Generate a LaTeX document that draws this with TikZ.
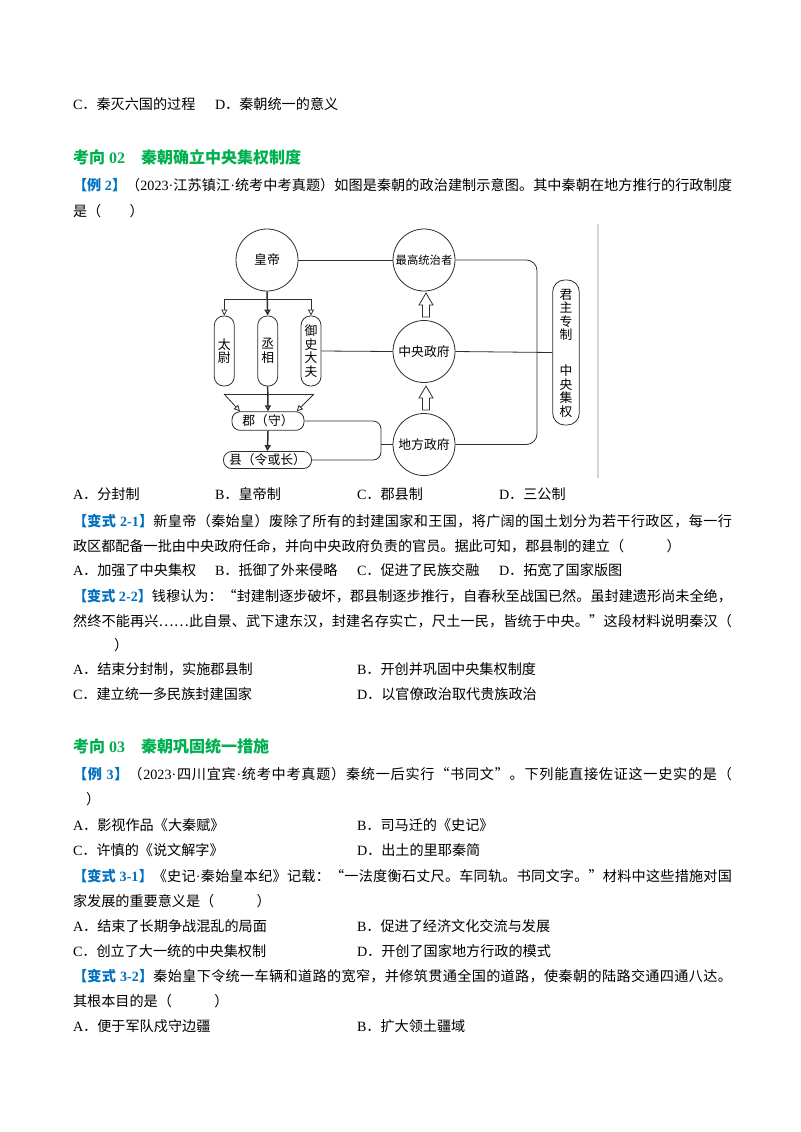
\documentclass[tikz,border=0pt]{standalone}
\usepackage{fontspec}
\setmainfont{Liberation Serif}
\newfontfamily\cjkfont{Noto Sans CJK SC}
\usetikzlibrary{arrows.meta}
\definecolor{headgreen}{HTML}{00B050}
\definecolor{tagblue}{HTML}{0070C0}
\definecolor{ink}{HTML}{2E2E2E}
\definecolor{frameline}{HTML}{D4D4D4}
% automatic switching between Latin and CJK fonts, with stretchable glue between characters
\XeTeXinterchartokenstate=1
\newXeTeXintercharclass\CJKc
\newcount\tmpc
\def\setcjkrange#1#2{\tmpc=#1\relax\loop\XeTeXcharclass\tmpc=\CJKc\relax\advance\tmpc by 1\relax\ifnum\tmpc<#2\relax\repeat}
\setcjkrange{"4E00}{"A000}
\setcjkrange{"3000}{"3040}
\setcjkrange{"FF00}{"FFF0}
\XeTeXcharclass"201C=\CJKc
\XeTeXcharclass"201D=\CJKc
\XeTeXcharclass"2026=\CJKc
\XeTeXinterchartoks 4095 \CJKc = {\cjkfont}
\XeTeXinterchartoks \CJKc 4095 = {\rmfamily}
\XeTeXinterchartoks 4095 0 = {\rmfamily}
\XeTeXinterchartoks 0 \CJKc = {\hskip0pt plus 1pt\relax\cjkfont}
\XeTeXinterchartoks \CJKc 0 = {\hskip0pt plus 1pt\relax\rmfamily}
\XeTeXinterchartoks \CJKc \CJKc = {\hskip0pt plus 1pt\relax\cjkfont}
\newcommand\exlab[1]{{\bfseries\color{tagblue}#1}}
\newcommand\fl[2][494.25pt]{\makebox[#1][s]{#2}}
\begin{document}
\begin{tikzpicture}[x=0.75pt,y=-0.75pt,
  txt/.style={anchor=base west, inner sep=0pt, outer sep=0pt, font=\fontsize{10.6pt}{12.7pt}\selectfont},
  headtxt/.style={anchor=base west, inner sep=0pt, outer sep=0pt, font=\fontsize{12pt}{14pt}\selectfont\bfseries, text=headgreen},
  dline/.style={draw=ink, line width=0.6pt},
  circ/.style={circle, draw=ink, line width=0.6pt, minimum size=46.5pt, inner sep=0pt, font=\fontsize{9.6pt}{11pt}\selectfont},
  vbox/.style={draw=ink, line width=0.6pt, rounded corners=7pt, minimum width=15pt, minimum height=52.5pt, inner sep=0pt, align=center, font=\fontsize{9.6pt}{10.2pt}\selectfont},
  hbox/.style={draw=ink, line width=0.6pt, rounded corners=6pt, inner sep=0pt, font=\fontsize{9.6pt}{11pt}\selectfont},
  vtext/.style={inner sep=0pt, align=center, font=\fontsize{9.6pt}{10.2pt}\selectfont},
  arr/.style={dline, -{Triangle[open, length=4.5pt, width=4.5pt]}},
  boldline/.style={line width=1.1pt},
  hollow/.style={draw=ink, line width=0.6pt, fill=white, line join=miter}
]
\fill[white] (0,0) rectangle (800,1132);
\useasboundingbox (0,0) rectangle (800,1132);

% ---------------- text above the diagram ----------------
\node[txt] (l1a) at (73,109) {C．秦灭六国的过程};
\node[txt] (l1d) at (215,109) {D．秦朝统一的意义};
\node[headtxt] (h2) at (73,163) {考向 02　秦朝确立中央集权制度};
\node[txt] (e2a) at (73,190) {\fl{\exlab{【例 2】}（2023·江苏镇江·统考中考真题）如图是秦朝的政治建制示意图。其中秦朝在地方推行的行政制度}};
\node[txt] (e2b) at (73,216) {是（　　）};

% ---------------- diagram ----------------
\draw[frameline, line width=0.8pt] (598,224) -- (598,478);

\node[circ] (hd) at (267,260) {皇帝};
\node[circ, font=\fontsize{8.5pt}{10pt}\selectfont] (zg) at (424,260) {最高统治者};
\node[circ] (zy) at (424,351.5) {中央政府};
\node[circ] (df) at (424,444.5) {地方政府};

\node[vbox] (tw) at (224.3,351) {太\\尉};
\node[vbox] (cx) at (267.7,351) {丞\\相};
\node[vbox] (ys) at (311,351) {御\\史\\大\\夫};

\node[hbox, minimum width=54pt, minimum height=13.9pt] (jun) at (268,421) {郡（守）};
\node[hbox, minimum width=66pt, minimum height=12.75pt] (xian) at (267.5,460) {县（令或长）};

\node[draw=ink, line width=0.6pt, rounded corners=9pt, minimum width=20pt, minimum height=108.75pt, inner sep=0pt] (rb) at (566,352.5) {};
\node[vtext] (jzzz) at (566,315) {君\\主\\专\\制};
\node[vtext] (zyjq) at (566,391) {中\\央\\集\\权};

\coordinate (bl) at (224.3,299);
\coordinate (br) at (311,299);
\coordinate (tl) at (224,394);
\coordinate (tr) at (314,394);
\coordinate (jx) at (381,444.5);
\coordinate (rx) at (537,351.5);

\draw[arr, boldline] (hd.south) -- (cx.north);
\draw[dline] (bl) -- (br);
\draw[arr] (bl) -- (tw.north);
\draw[arr] (br) -- (ys.north);

\draw[dline] (tl) -- (tr);
\draw[arr] (tl) -- ([xshift=-21pt]jun.north);
\draw[arr] (tr) -- ([xshift=21.5pt]jun.north);
\draw[arr, boldline] (cx.south) -- (jun.north);
\draw[arr, boldline] (jun.south) -- (xian.north);

\draw[dline, rounded corners=6pt] (jun.east) -| (jx) |- (xian.east);
\draw[dline] (jx) -- (df.west);

\draw[dline] (hd.east) -- (zg.west);
\draw[dline] (ys.east) -- (zy.west);
\draw[dline] (zy.east) -- (rb.west);
\draw[dline, rounded corners=8pt] (zg.east) -| (rx) |- (df.east);

% hollow up arrows
\draw[hollow] (422.5,317) -- (422.5,305) -- (419,305) -- (426,293) -- (433,305) -- (429.5,305) -- (429.5,317) -- cycle;
\draw[hollow] (422.5,410) -- (422.5,398) -- (419,398) -- (426,386) -- (433,398) -- (429.5,398) -- (429.5,410) -- cycle;

% ---------------- text below the diagram ----------------
\node[txt] (o2a) at (73,499) {A．分封制};
\node[txt] (o2b) at (215,499) {B．皇帝制};
\node[txt] (o2c) at (357,499) {C．郡县制};
\node[txt] (o2d) at (499,499) {D．三公制};

\node[txt] (v21a) at (73,526) {\fl{\exlab{【变式 2-1】}新皇帝（秦始皇）废除了所有的封建国家和王国，将广阔的国土划分为若干行政区，每一行}};
\node[txt] (v21b) at (73,551) {\fl[453.75pt]{政区都配备一批由中央政府任命，并向中央政府负责的官员。据此可知，郡县制的建立（　　　）}};
\node[txt] (o21a) at (73,575) {A．加强了中央集权};
\node[txt] (o21b) at (215,575) {B．抵御了外来侵略};
\node[txt] (o21c) at (357,575) {C．促进了民族交融};
\node[txt] (o21d) at (499,575) {D．拓宽了国家版图};

\node[txt] (v22a) at (73,601) {\fl{\exlab{【变式 2-2】}钱穆认为：“封建制逐步破坏，郡县制逐步推行，自春秋至战国已然。虽封建遗形尚未全绝，}};
\node[txt] (v22b) at (73,626) {\fl{然终不能再兴……此自景、武下逮东汉，封建名存实亡，尺土一民，皆统于中央。”这段材料说明秦汉（}};
\node[txt] (v22c) at (114,650) {）};
\node[txt] (o22a) at (73,674) {A．结束分封制，实施郡县制};
\node[txt] (o22b) at (357,674) {B．开创并巩固中央集权制度};
\node[txt] (o22c) at (73,699) {C．建立统一多民族封建国家};
\node[txt] (o22d) at (357,699) {D．以官僚政治取代贵族政治};

\node[headtxt] (h3) at (73,752) {考向 03　秦朝巩固统一措施};
\node[txt] (e3a) at (73,779) {\fl{\exlab{【例 3】}（2023·四川宜宾·统考中考真题）秦统一后实行“书同文”。下列能直接佐证这一史实的是（}};
\node[txt] (e3b) at (86,804) {）};
\node[txt] (o3a) at (73,830) {A．影视作品《大秦赋》};
\node[txt] (o3b) at (357,830) {B．司马迁的《史记》};
\node[txt] (o3c) at (73,855) {C．许慎的《说文解字》};
\node[txt] (o3d) at (357,855) {D．出土的里耶秦简};

\node[txt] (v31a) at (73,881) {\fl{\exlab{【变式 3-1】}《史记·秦始皇本纪》记载：“一法度衡石丈尺。车同轨。书同文字。”材料中这些措施对国}};
\node[txt] (v31b) at (73,906) {家发展的重要意义是（　　　）};
\node[txt] (o31a) at (73,931) {A．结束了长期争战混乱的局面};
\node[txt] (o31b) at (357,931) {B．促进了经济文化交流与发展};
\node[txt] (o31c) at (73,956) {C．创立了大一统的中央集权制};
\node[txt] (o31d) at (357,956) {D．开创了国家地方行政的模式};

\node[txt] (v32a) at (73,981) {\fl{\exlab{【变式 3-2】}秦始皇下令统一车辆和道路的宽窄，并修筑贯通全国的道路，使秦朝的陆路交通四通八达。}};
\node[txt] (v32b) at (73,1006) {其根本目的是（　　　）};
\node[txt] (o32a) at (73,1031) {A．便于军队戍守边疆};
\node[txt] (o32b) at (357,1031) {B．扩大领土疆域};
\end{tikzpicture}
\end{document}
